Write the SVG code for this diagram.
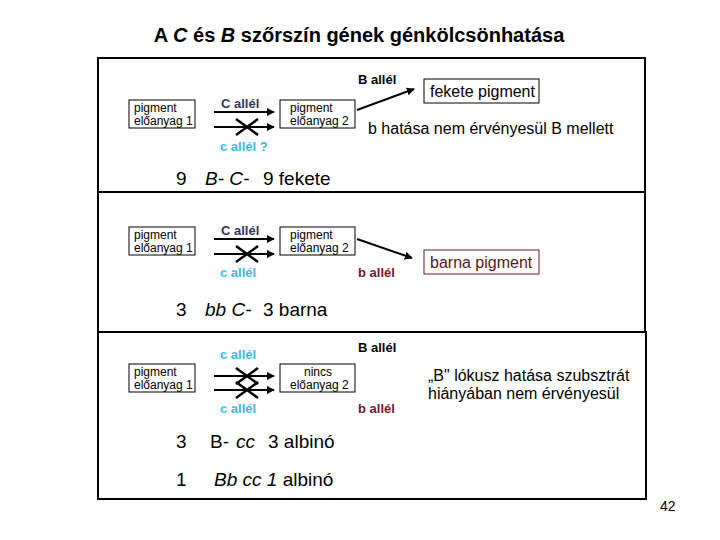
<svg xmlns="http://www.w3.org/2000/svg" width="720" height="540" viewBox="0 0 720 540">
<style>
text{font-family:"Liberation Sans",Arial,sans-serif;fill:#000}
.title{font-size:20px;font-weight:bold}
.sm{font-size:12px}
.lab{font-size:13px;font-weight:bold}
.navy{fill:#333366}
.cyan{fill:#3DB8E6}
.red{fill:#7A1535}
.md{font-size:16px}
.big{font-size:19px}
.box{fill:#fff;stroke:#000;stroke-width:1}
.panel{fill:none;stroke:#000;stroke-width:2}
.arr{stroke:#000;stroke-width:2;fill:none;marker-end:url(#ah)}
.x{stroke:#000;stroke-width:2.5;fill:none}
</style>
<defs>
<marker id="ah" viewBox="0 0 10 10" refX="9" refY="5" markerWidth="4" markerHeight="4" orient="auto" markerUnits="strokeWidth">
<path d="M0,0 L10,5 L0,10 z" fill="#000"/>
</marker>
</defs>
<rect width="720" height="540" fill="#fff"/>
<text class="title" x="359" y="42" text-anchor="middle">A <tspan font-style="italic">C</tspan> és <tspan font-style="italic">B</tspan> szőrszín gének génkölcsönhatása</text>

<g id="panels">
<rect class="panel" x="98" y="58" width="547" height="134"/>
<rect class="panel" x="98" y="192" width="547" height="140"/>
<rect class="panel" x="98" y="332" width="548" height="167"/>
</g>

<g id="connectors">
<line class="arr" x1="214" y1="112" x2="274" y2="112"/>
<line class="arr" x1="214" y1="127" x2="274" y2="127"/>
<path class="x" d="M236,119 L258,135 M236,135 L258,119"/>
<line class="arr" x1="357" y1="110" x2="414" y2="89"/>
<line class="arr" x1="214" y1="239" x2="274" y2="239"/>
<line class="arr" x1="214" y1="254" x2="274" y2="254"/>
<path class="x" d="M236,246 L258,262 M236,262 L258,246"/>
<line class="arr" x1="357" y1="239" x2="412" y2="258"/>
<line class="arr" x1="214" y1="376" x2="274" y2="376"/>
<line class="arr" x1="214" y1="390" x2="274" y2="390"/>
<path class="x" d="M236,368 L258,384 M236,384 L258,368"/>
<path class="x" d="M236,382 L258,398 M236,398 L258,382"/>
</g>

<g id="p1-elo1"><rect class="box" x="129" y="100" width="66" height="28"/><text class="sm" x="134" y="112">pigment</text><text class="sm" x="134" y="125">előanyag 1</text></g>
<g id="p1-elo2"><rect class="box" x="280" y="100" width="75" height="28"/><text class="sm" x="290" y="112">pigment</text><text class="sm" x="290" y="125">előanyag 2</text></g>
<g id="p1-fekete"><rect class="box" x="424" y="79" width="115" height="24"/><text class="md" x="430" y="97">fekete pigment</text></g>
<g id="p1-labels">
<text class="lab navy" x="221" y="108">C allél</text>
<text class="lab cyan" x="220" y="151">c allél ?</text>
<text class="lab" x="358" y="84">B allél</text>
<text class="md" x="368" y="134">b hatása nem érvényesül B mellett</text>
<text class="big" x="176" y="185">9<tspan x="205" font-style="italic">B- C-</tspan><tspan x="263">9 fekete</tspan></text>
</g>

<g id="p2-elo1"><rect class="box" x="129" y="227" width="66" height="28"/><text class="sm" x="134" y="239">pigment</text><text class="sm" x="134" y="252">előanyag 1</text></g>
<g id="p2-elo2"><rect class="box" x="280" y="227" width="75" height="28"/><text class="sm" x="290" y="239">pigment</text><text class="sm" x="290" y="252">előanyag 2</text></g>
<g id="p2-barna"><rect x="424" y="250" width="115" height="24" fill="#fff" stroke="#6B1A2A"/><text class="md" x="430" y="268" style="fill:#5A1520">barna pigment</text></g>
<g id="p2-labels">
<text class="lab navy" x="221" y="235">C allél</text>
<text class="lab cyan" x="220" y="277">c allél</text>
<text class="lab red" x="358" y="277">b allél</text>
<text class="big" x="176" y="316">3<tspan x="205" font-style="italic">bb C-</tspan><tspan x="263">3 barna</tspan></text>
</g>

<g id="p3-elo1"><rect class="box" x="129" y="364" width="66" height="28"/><text class="sm" x="134" y="376">pigment</text><text class="sm" x="134" y="389">előanyag 1</text></g>
<g id="p3-nincs"><rect class="box" x="280" y="364" width="75" height="28"/><text class="sm" x="318" y="376" text-anchor="middle">nincs</text><text class="sm" x="290" y="389">előanyag 2</text></g>
<g id="p3-labels">
<text class="lab" x="358" y="352">B allél</text>
<text class="lab cyan" x="220" y="359">c allél</text>
<text class="lab cyan" x="220" y="413">c allél</text>
<text class="lab red" x="358" y="413">b allél</text>
<text class="md" x="428" y="381">„B" lókusz hatása szubsztrát</text>
<text class="md" x="428" y="399">hiányában nem érvényesül</text>
<text class="big" x="176" y="448">3<tspan x="210">B-</tspan><tspan x="236" font-style="italic">cc</tspan><tspan x="268">3 albinó</tspan></text>
<text class="big" x="176" y="486">1<tspan x="214" font-style="italic">Bb cc 1</tspan><tspan> albinó</tspan></text>
</g>
<text x="660" y="511" font-size="14">42</text>
</svg>
